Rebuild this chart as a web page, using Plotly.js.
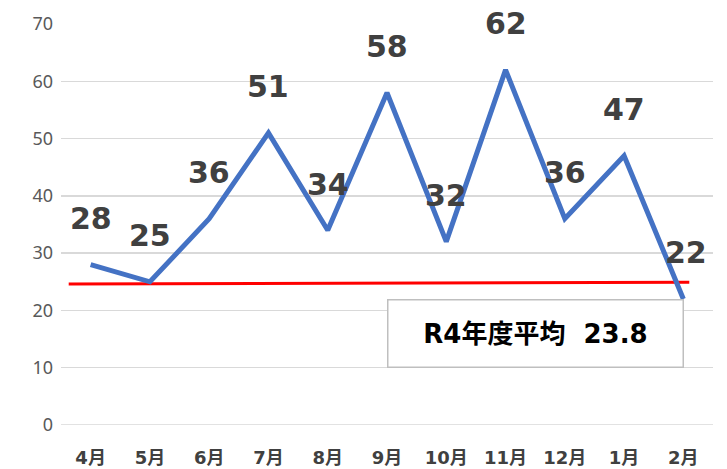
<!DOCTYPE html>
<html><head><meta charset="utf-8">
<script src="https://cdn.plot.ly/plotly-3.0.1.min.js"></script>
<style>html,body{margin:0;padding:0;background:#fff}#c{width:727px;height:469px}</style>
</head><body><div id="c"></div>
<script>
const months = ["4月","5月","6月","7月","8月","9月","10月","11月","12月","1月","2月"];
const counts = [28,25,36,51,34,58,32,62,36,47,22];
const avgLineX = [-0.37, 10.1];
const avgLineY = [24.6, 24.9];
const avgLabel = "R4年度平均  23.8";
const yTicks = [0,10,20,30,40,50,60,70];

const labelFont = {family:"DejaVu Sans, Noto Sans CJK JP", size:30, color:"#404040"};
const annotations = counts.map((v,i)=>({
  x: months[i], y: v, xref:"x", yref:"y", text: "<b>"+v+"</b>",
  showarrow:false, yshift:46, xshift: i===10?3:0, font: labelFont
}));
annotations.push({
  x: 0.727, y: 0.227, xref:"paper", yref:"paper", xanchor:"center", yanchor:"middle",
  text:"<b>"+avgLabel+"</b>",
  showarrow:false, font:{family:"DejaVu Sans, Noto Sans CJK JP", size:26, color:"#000"},
  bgcolor:"#fff", bordercolor:"#bfbfbf", borderwidth:1.5, width:292, height:64, align:"center"
});

const traces = [
  {x: months, y: counts, type:"scatter", mode:"lines",
   line:{color:"#4472C4", width:5}, hoverinfo:"none"}
];

const layout = {
  width:727, height:469,
  margin:{l:61, r:14, t:24, b:44},
  paper_bgcolor:"#fff", plot_bgcolor:"#fff",
  showlegend:false,
  xaxis:{type:"category", showgrid:false, zeroline:false, showline:false, ticks:"",
    tickfont:{family:"DejaVu Sans, Noto Sans CJK JP", size:18, color:"#404040", weight:"bold"},
    ticklabelstandoff:20, range:[-0.5,10.5]},
  yaxis:{range:[0,70], tickvals:yTicks, showgrid:true, gridcolor:"#d9d9d9", gridwidth:1.5,
    zeroline:false, showline:false, ticks:"", ticklabelstandoff:7,
    tickfont:{family:"Noto Sans, DejaVu Sans", size:18, color:"#595959"}},
  shapes:[
    {type:"line", xref:"x", yref:"y", x0:avgLineX[0], x1:avgLineX[1], y0:avgLineY[0], y1:avgLineY[1],
     line:{color:"#ff0000", width:3}, layer:"below"},
    {type:"line", xref:"paper", yref:"y", x0:0, x1:1, y0:0, y1:0, line:{color:"#d9d9d9", width:1.5}, layer:"below"}
  ],
  annotations: annotations
};
Plotly.newPlot("c", traces, layout, {staticPlot:true});
</script>
</body></html>
